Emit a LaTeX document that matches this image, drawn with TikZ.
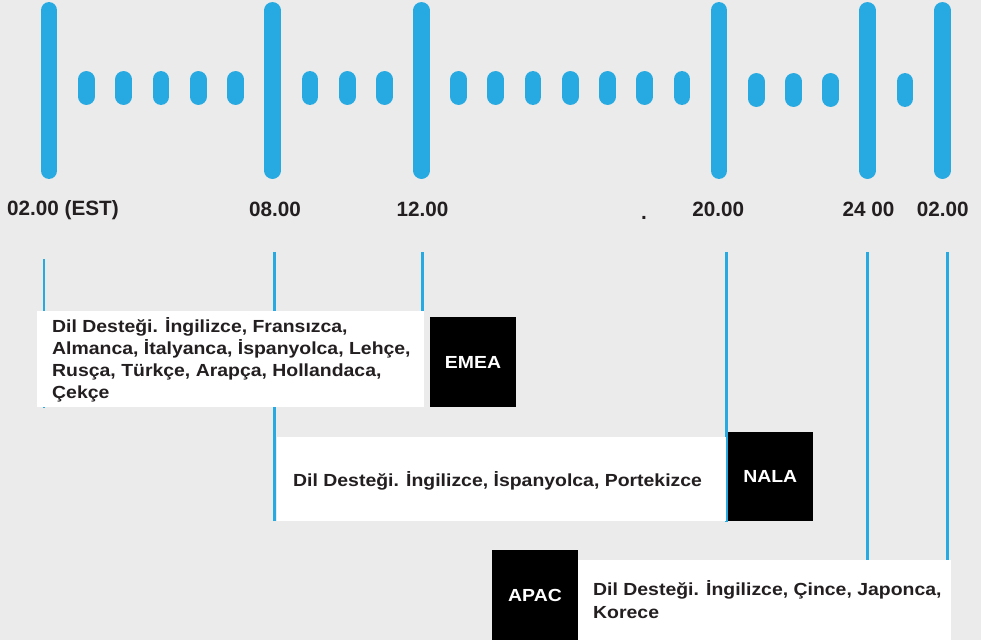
\documentclass[tikz,border=0pt]{standalone}
\usepackage{fontspec}
\setmainfont{Liberation Sans}
\newfontfamily\boxfont[FakeStretch=1.11]{Liberation Sans}
\definecolor{bg}{HTML}{EBEBEB}
\definecolor{tlblue}{HTML}{27AAE1}
\definecolor{ink}{HTML}{231F20}
\begin{document}
\begin{tikzpicture}[x=1pt,y=-1pt,
  bigbar/.style={line width=16.7pt,line cap=round,draw=tlblue},
  pill/.style={line width=16.7pt,line cap=round,draw=tlblue},
  guide/.style={line width=2.7pt,draw=tlblue},
  timelabel/.style={font=\fontsize{20.7}{24}\selectfont\bfseries,text=ink,inner sep=0pt,anchor=base},
  infobox/.style={fill=white,draw=none,inner sep=0pt},
  regionbox/.style={fill=black,draw=none,text=white,font=\boxfont\fontsize{17.5}{21}\selectfont\bfseries,inner sep=0pt,minimum width=86pt},
  info/.style={font=\boxfont\fontsize{17.5}{22}\selectfont\bfseries,text=ink,inner sep=0pt,anchor=base west}]
\fill[bg] (0,0) rectangle (981,640);
\useasboundingbox (0,0) rectangle (981,640);
% major bars
\foreach \x in {49,272.5,421.5,719,867.5,942.5}
  \draw[bigbar] (\x,10.4) -- (\x,170.6);
% minor pills
\foreach \x in {86.3,123.7,161,198.3,235.7,310,347.3,384.7,458.7,495.7,533,570.3,607.7,644.7,682}
  \draw[pill] (\x,79.4) -- (\x,96.6);
\foreach \x in {756.3,793.7,830.7,905}
  \draw[pill] (\x,81.4) -- (\x,98.6);
% time labels
\node[timelabel,anchor=base west] (t02est) at (7,215) {02.00 (EST)};
\node[timelabel] (t08) at (275,216.7) {08.00};
\node[timelabel] (t12) at (422.5,216.7) {12.00};
\node[timelabel] (tdot) at (644,219) {.};
\node[timelabel] (t20) at (718.3,216.7) {20.00};
\node[timelabel] (t24) at (868.5,216.7) {24 00};
\node[timelabel] (t02) at (942.8,216.7) {02.00};
% guide lines
\coordinate (g1a) at (44,259);   \coordinate (g1b) at (44,408);
\coordinate (g2a) at (274.5,252); \coordinate (g2b) at (274.5,521);
\coordinate (g3a) at (422.2,252); \coordinate (g3b) at (422.2,311);
\coordinate (g4a) at (726.3,252); \coordinate (g4b) at (726.3,522);
\coordinate (g5a) at (867.3,252); \coordinate (g5b) at (867.3,560);
\coordinate (g6a) at (947.3,252); \coordinate (g6b) at (947.3,560);
\foreach \i in {1,...,6} \draw[guide] (g\i a) -- (g\i b);
% EMEA
\node[infobox,minimum width=387pt,minimum height=96pt] (emeabox) at (230.5,359) {};
\node[regionbox,minimum height=90pt] (emea) at (473,362) {EMEA};
\node[info] (emea1) at (52,332) {Dil Desteği. İngilizce, Fransızca,};
\node[info] (emea2) at (52,354) {Almanca, İtalyanca, İspanyolca, Lehçe,};
\node[info] (emea3) at (52,376) {Rusça, Türkçe, Arapça, Hollandaca,};
\node[info] (emea4) at (52,398) {Çekçe};
% NALA
\node[infobox,minimum width=448.5pt,minimum height=84pt] (nalabox) at (501.25,479) {};
\node[regionbox,minimum width=85.5pt,minimum height=89pt] (nala) at (770.25,476.5) {NALA};
\node[info] (nala1) at (293,486) {Dil Desteği. İngilizce, İspanyolca, Portekizce};
% APAC
\node[infobox,minimum width=373pt,minimum height=80pt] (apacbox) at (764.5,600) {};
\node[regionbox,minimum height=90pt] (apac) at (535,595) {APAC};
\node[info] (apac1) at (593,595) {Dil Desteği. İngilizce, Çince, Japonca,};
\node[info] (apac2) at (593,618.5) {Korece};
\end{tikzpicture}
\end{document}
